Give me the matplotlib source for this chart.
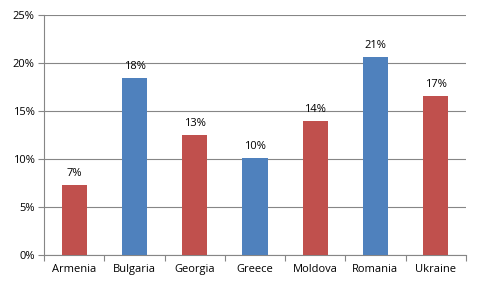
import matplotlib
matplotlib.use("Agg")
import matplotlib.pyplot as plt
from matplotlib.ticker import FuncFormatter, FixedLocator

categories = ["Armenia", "Bulgaria", "Georgia", "Greece", "Moldova", "Romania", "Ukraine"]
values = [7.35, 18.47, 12.53, 10.14, 13.99, 20.66, 16.6]
labels = ["7%", "18%", "13%", "10%", "14%", "21%", "17%"]
bar_colors = ["#C0504D", "#4F81BD", "#C0504D", "#4F81BD", "#C0504D", "#4F81BD", "#C0504D"]

plt.rcParams['font.family'] = ['Open Sans', 'DejaVu Sans']

fig = plt.figure(figsize=(4.82, 2.90), dpi=100)
ax = fig.add_axes([0.0919, 0.1197, 0.8743, 0.8273])

x = list(range(len(categories)))
bars = ax.bar(x, values, width=0.42, color=bar_colors, zorder=3)
for xi, v, lab in zip(x, values, labels):
    ax.annotate(lab, (xi, v), xytext=(0, 4), textcoords="offset points",
                ha="center", va="bottom", fontsize=8, color="black")

ax.set_xlim(-0.5, len(categories) - 0.5)
ax.set_ylim(0, 25)
ax.set_yticks([0, 5, 10, 15, 20, 25])
ax.yaxis.set_major_formatter(FuncFormatter(lambda v, p: f"{v:.0f}%"))
ax.set_xticks(x)
ax.set_xticklabels(categories)
ax.xaxis.set_minor_locator(FixedLocator([i - 0.5 for i in range(len(categories) + 1)]))
ax.tick_params(axis="x", which="major", length=0, labelsize=8, pad=6)
ax.tick_params(axis="x", which="minor", length=4, color="#868686", width=0.8)
ax.tick_params(axis="y", length=4, color="#868686", width=0.8, labelsize=8, pad=3)
ax.grid(axis="y", color="#868686", linewidth=0.8, zorder=0)
for s in ["top", "right"]:
    ax.spines[s].set_visible(False)
for s in ["left", "bottom"]:
    ax.spines[s].set_color("#868686")
    ax.spines[s].set_linewidth(0.8)

fig.savefig("out.png", dpi=100)
